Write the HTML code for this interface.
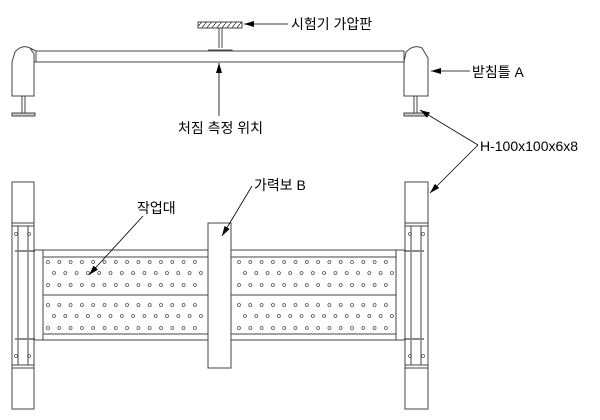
<!DOCTYPE html>
<html><head><meta charset="utf-8"><style>body{margin:0;background:#fff}svg{display:block}</style></head><body>
<svg width="600" height="420" viewBox="0 0 600 420" xmlns="http://www.w3.org/2000/svg" font-family="Liberation Sans, Noto Sans CJK KR, sans-serif">
<defs>
<marker id="a" markerWidth="10" markerHeight="6" refX="10" refY="3" orient="auto" markerUnits="userSpaceOnUse"><path d="M0,0 L10,3 L0,6z" fill="#000"/></marker>
<pattern id="h" width="5" height="6" patternUnits="userSpaceOnUse"><path d="M0,6 L5,0" stroke="#333" stroke-width="0.8"/></pattern>
</defs>
<g stroke="#444" fill="none" stroke-width="1">
<!-- top beam -->
<rect x="36" y="51" width="368" height="11"/>
<!-- left support -->
<path d="M12,96 V62 L15,52 Q22,44 30,48 L34,54 V96 Z" fill="#fff"/>
<path d="M30,48 L36,51 M34,62 L36,62"/>
<rect x="22" y="96" width="3" height="17"/><rect x="12" y="113" width="23" height="3" fill="#ccc"/>
<!-- right support -->
<path d="M404,96 V62 L406,52 Q414,44 422,48 L428,58 V96 Z" fill="#fff"/>
<rect x="414" y="96" width="3" height="17"/><rect x="404" y="113" width="23" height="3" fill="#ccc"/>
<!-- loading plate -->
<rect x="198" y="22" width="44" height="6" fill="url(#h)"/>
<path d="M210,28 H231 M219,28 V48 M222,28 V48 M208,50 H232 V51"/>
<!-- columns -->
<rect x="12" y="182" width="22" height="227"/>
<rect x="405" y="182" width="23" height="227"/>
<path d="M12,223 H34 M12,226 H34 M12,365 H34 M12,368 H34 M18,226 V365 M28,226 V365"/>
<path d="M405,223 H428 M405,226 H428 M405,365 H428 M405,368 H428 M411,226 V365 M421,226 V365"/>
<path d="M15,251 H35 M15,339 H35 M404,251 H424 M404,339 H424" stroke-width="2" stroke="#888"/>
<!-- platform -->
<rect x="34" y="250" width="371" height="90"/>
<path d="M43,250 V340 M396,250 V340 M43,257 H396 M43,295 H396 M43,334 H396"/>
<rect x="208" y="223" width="23" height="145" fill="#fff"/>
</g>
<g fill="none" stroke="#555" stroke-width="0.8">
<g id="d1">
<circle cx="48" cy="262" r="1.5"/><circle cx="54" cy="273" r="1.5"/><circle cx="48" cy="285" r="1.5"/>
<circle cx="48" cy="305" r="1.5"/><circle cx="54" cy="316" r="1.5"/><circle cx="48" cy="328" r="1.5"/>
</g>
<use href="#d1" x="11.3"/><use href="#d1" x="22.6"/><use href="#d1" x="33.9"/><use href="#d1" x="45.2"/><use href="#d1" x="56.5"/><use href="#d1" x="67.8"/><use href="#d1" x="79.1"/><use href="#d1" x="90.4"/><use href="#d1" x="101.7"/><use href="#d1" x="113"/><use href="#d1" x="124.3"/><use href="#d1" x="135.6"/><use href="#d1" x="146.9"/>
<use href="#d1" x="191"/><use href="#d1" x="202.3"/><use href="#d1" x="213.6"/><use href="#d1" x="224.9"/><use href="#d1" x="236.2"/><use href="#d1" x="247.5"/><use href="#d1" x="258.8"/><use href="#d1" x="270.1"/><use href="#d1" x="281.4"/><use href="#d1" x="292.7"/><use href="#d1" x="304"/><use href="#d1" x="315.3"/><use href="#d1" x="326.6"/><use href="#d1" x="337.9"/>
<circle cx="16" cy="234" r="1.5"/><circle cx="29" cy="234" r="1.5"/><circle cx="16" cy="356" r="1.5"/><circle cx="29" cy="356" r="1.5"/>
<circle cx="410" cy="234" r="1.5"/><circle cx="423" cy="234" r="1.5"/><circle cx="410" cy="356" r="1.5"/><circle cx="423" cy="356" r="1.5"/>
</g>
<g stroke="#000" stroke-width="0.8" fill="none">
<path d="M288,24 H244" marker-end="url(#a)"/>
<path d="M219,116 V63" marker-end="url(#a)"/>
<path d="M470,71 H431" marker-end="url(#a)"/>
<path d="M478,145 L420,110" marker-end="url(#a)"/>
<path d="M478,145 L430,193" marker-end="url(#a)"/>
<path d="M252,186 L222,236" marker-end="url(#a)"/>
<path d="M143,216 L89,275" marker-end="url(#a)"/>
</g>
<g font-size="14" fill="#000">
<text x="291" y="29">시험기 가압판</text>
<text x="178" y="133">처짐 측정 위치</text>
<text x="472" y="77">받침틀 A</text>
<text x="480" y="151">H-100x100x6x8</text>
<text x="254" y="190">가력보 B</text>
<text x="137" y="213">작업대</text>
</g>
</svg>
</body></html>
